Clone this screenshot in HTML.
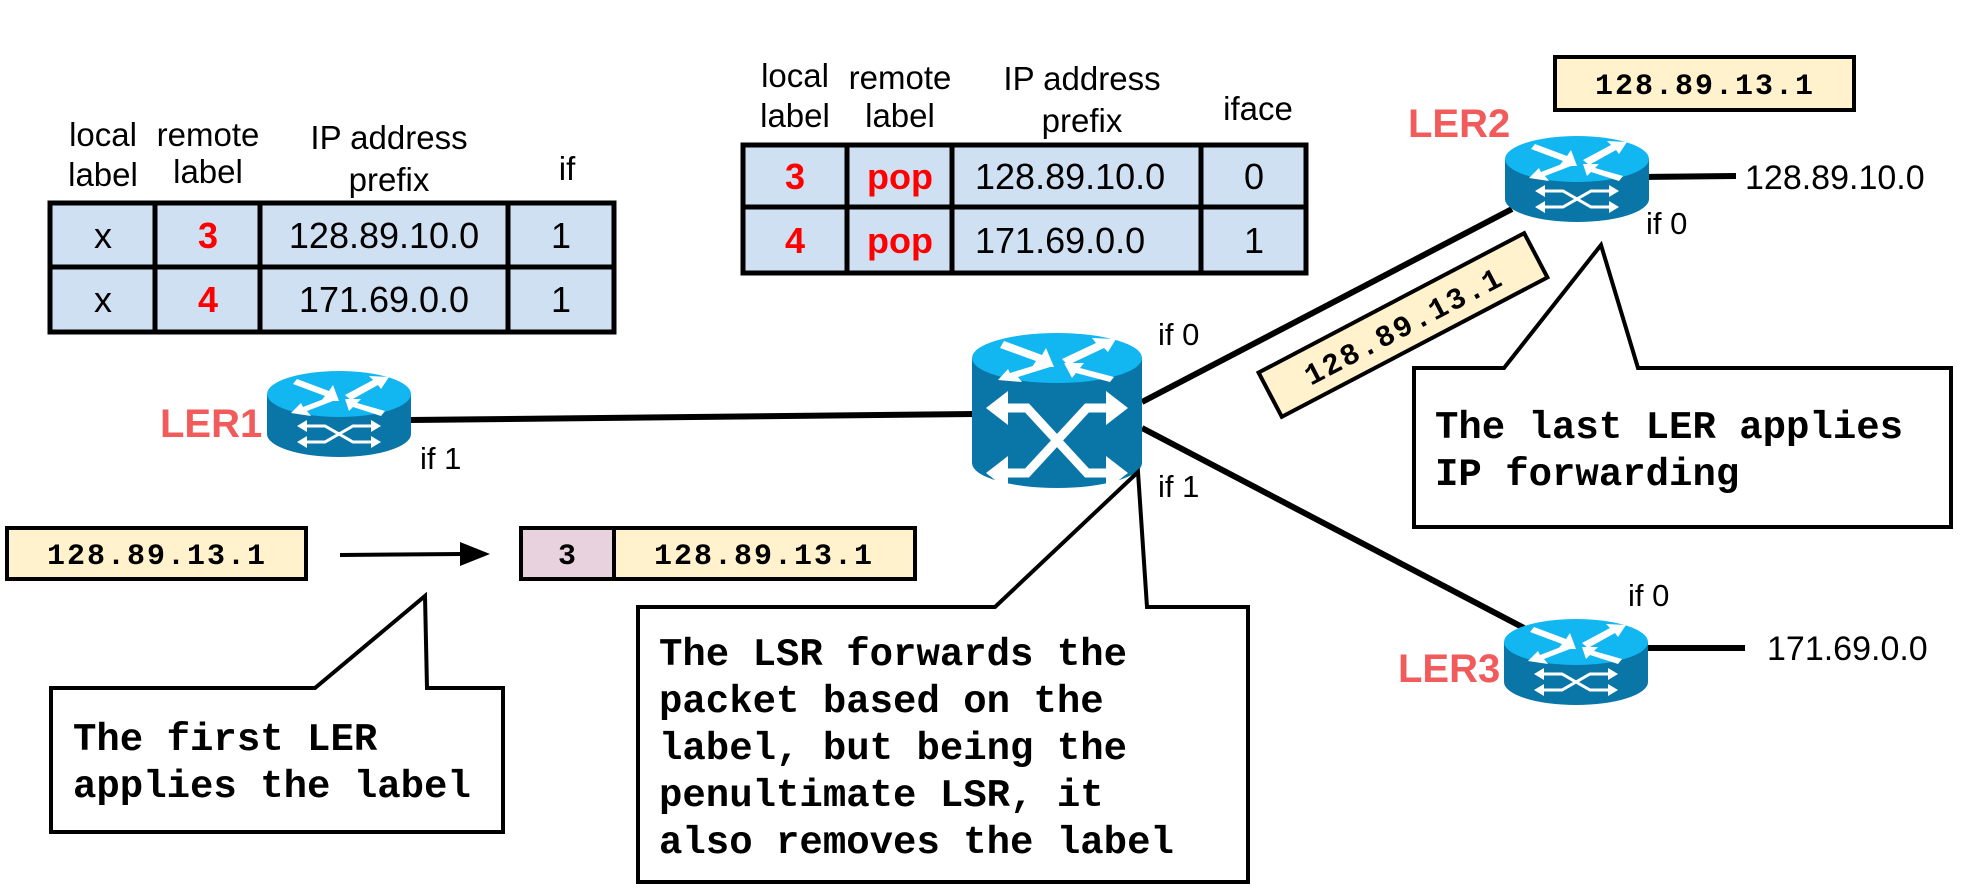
<!DOCTYPE html>
<html><head><meta charset="utf-8"><style>
html,body{margin:0;padding:0;background:#fff;}
svg{display:block;}
.h{font-family:"Liberation Sans",sans-serif;font-size:33px;fill:#000;}
.i{font-family:"Liberation Sans",sans-serif;font-size:31px;fill:#000;}
.c{font-family:"Liberation Sans",sans-serif;font-size:36px;fill:#000;}
.r{font-family:"Liberation Sans",sans-serif;font-size:36px;font-weight:bold;fill:#ff0000;}
.ler{font-family:"Liberation Sans",sans-serif;font-size:40px;font-weight:bold;fill:#f25b5b;}
.m{font-family:"Liberation Mono",monospace;font-size:30px;font-weight:bold;fill:#000;letter-spacing:2px;}
.t{font-family:"Liberation Mono",monospace;font-size:39px;font-weight:bold;fill:#000;}
</style></head><body>
<svg width="1966" height="896" viewBox="0 0 1966 896" xmlns="http://www.w3.org/2000/svg">
<defs>
<g id="rt">
  <path d="M0,23 L0,63 A72,23 0 0 0 144,63 L144,23 Z" fill="#0a76a8"/>
  <ellipse cx="72" cy="23" rx="72" ry="23" fill="#12b6f0"/>
  <g fill="#fff">
    <polygon points="30,8 62,20 66,14 72,30 54,30 58,25 26,13"/>
    <polygon points="78,24 106,9 102,5 122,6 114,18 111,14 84,29"/>
    <polygon points="66,30 40,40 44,45 24,42 34,32 36,36 62,26"/>
    <polygon points="78,28 94,28 90,32 118,40 114,45 86,36 82,40"/>
  </g>
  <g stroke="#fff" stroke-width="3" fill="none">
    <path d="M38,55 L58,55 L86,71 L106,71"/>
    <path d="M38,71 L58,71 L86,55 L106,55"/>
  </g>
  <g fill="#fff">
    <polygon points="30,55 40,49 40,61"/><polygon points="114,55 104,49 104,61"/>
    <polygon points="30,71 40,65 40,77"/><polygon points="114,71 104,65 104,77"/>
  </g>
</g>
</defs>

<g stroke="#000" stroke-width="6" fill="none">
  <line x1="410" y1="420" x2="975" y2="414"/>
  <line x1="1142" y1="402" x2="1512" y2="209"/>
  <line x1="1142" y1="428" x2="1524" y2="628"/>
  <line x1="1645" y1="177" x2="1736" y2="176"/>
  <line x1="1645" y1="648" x2="1745" y2="648"/>
</g>

<!-- Table 1 -->
<text class="h" text-anchor="middle" x="103" y="146">local</text>
<text class="h" text-anchor="middle" x="103" y="186">label</text>
<text class="h" text-anchor="middle" x="208" y="146">remote</text>
<text class="h" text-anchor="middle" x="208" y="183">label</text>
<text class="h" text-anchor="middle" x="389" y="149">IP address</text>
<text class="h" text-anchor="middle" x="389" y="191">prefix</text>
<text class="h" text-anchor="middle" x="567" y="180">if</text>
<rect x="50" y="203" width="564" height="129" fill="#cfe0f2" stroke="#000" stroke-width="5"/>
<g stroke="#000" stroke-width="5">
  <line x1="50" y1="267" x2="614" y2="267"/>
  <line x1="155" y1="203" x2="155" y2="332"/>
  <line x1="260" y1="203" x2="260" y2="332"/>
  <line x1="508" y1="203" x2="508" y2="332"/>
</g>
<text class="c" text-anchor="middle" x="103" y="248">x</text>
<text class="c" text-anchor="middle" x="103" y="312">x</text>
<text class="r" text-anchor="middle" x="208" y="248">3</text>
<text class="r" text-anchor="middle" x="208" y="312">4</text>
<text class="c" text-anchor="middle" x="384" y="248">128.89.10.0</text>
<text class="c" text-anchor="middle" x="384" y="312">171.69.0.0</text>
<text class="c" text-anchor="middle" x="561" y="248">1</text>
<text class="c" text-anchor="middle" x="561" y="312">1</text>

<!-- Table 2 -->
<text class="h" text-anchor="middle" x="795" y="87">local</text>
<text class="h" text-anchor="middle" x="795" y="127">label</text>
<text class="h" text-anchor="middle" x="900" y="89">remote</text>
<text class="h" text-anchor="middle" x="900" y="127">label</text>
<text class="h" text-anchor="middle" x="1082" y="90">IP address</text>
<text class="h" text-anchor="middle" x="1082" y="132">prefix</text>
<text class="h" text-anchor="middle" x="1258" y="120">iface</text>
<rect x="743" y="145" width="563" height="128" fill="#cfe0f2" stroke="#000" stroke-width="5"/>
<g stroke="#000" stroke-width="5">
  <line x1="743" y1="207" x2="1306" y2="207"/>
  <line x1="847" y1="145" x2="847" y2="273"/>
  <line x1="952" y1="145" x2="952" y2="273"/>
  <line x1="1201" y1="145" x2="1201" y2="273"/>
</g>
<text class="r" text-anchor="middle" x="795" y="189">3</text>
<text class="r" text-anchor="middle" x="795" y="253">4</text>
<text class="r" text-anchor="middle" x="900" y="189">pop</text>
<text class="r" text-anchor="middle" x="900" y="253">pop</text>
<text class="c" text-anchor="start" x="975" y="189">128.89.10.0</text>
<text class="c" text-anchor="start" x="975" y="253">171.69.0.0</text>
<text class="c" text-anchor="middle" x="1254" y="189">0</text>
<text class="c" text-anchor="middle" x="1254" y="253">1</text>

<use href="#rt" transform="translate(267,371)"/>
<use href="#rt" transform="translate(1505,136)"/>
<use href="#rt" transform="translate(1504,619)"/>

<g transform="translate(972,333)">
  <path d="M0,25 L0,130 A85,25 0 0 0 170,130 L170,25 Z" fill="#0a76a8"/>
  <ellipse cx="85" cy="25" rx="85" ry="25" fill="#12b6f0"/>
  <g fill="#fff">
    <polygon points="32,8 70,22 74,15 82,34 60,34 64,28 28,15"/>
    <polygon points="90,26 124,10 120,5 144,6 136,19 132,15 96,32"/>
    <polygon points="78,34 46,44 50,49 26,47 36,36 38,40 74,29"/>
    <polygon points="92,30 112,30 108,35 142,44 138,49 104,40 100,45"/>
  </g>
  <g stroke="#fff" stroke-width="9" fill="none">
    <path d="M30,75 L55,75 L115,140 L140,140"/>
    <path d="M30,140 L55,140 L115,75 L140,75"/>
  </g>
  <g fill="#fff">
    <polygon points="14,75 36,58 36,92"/><polygon points="156,75 134,58 134,92"/>
    <polygon points="14,140 36,123 36,157"/><polygon points="156,140 134,123 134,157"/>
  </g>
</g>

<text class="ler" x="160" y="437">LER1</text>
<text class="ler" x="1408" y="137">LER2</text>
<text class="ler" x="1398" y="682">LER3</text>
<text class="i" x="420" y="469">if 1</text>
<text class="i" x="1158" y="345">if 0</text>
<text class="i" x="1158" y="497">if 1</text>
<text class="i" x="1646" y="234">if 0</text>
<text class="i" x="1628" y="606">if 0</text>
<text class="c" x="1745" y="189" style="font-size:34px">128.89.10.0</text>
<text class="c" x="1767" y="660" style="font-size:34px">171.69.0.0</text>

<rect x="7" y="528" width="299" height="51" fill="#fff2cc" stroke="#000" stroke-width="4"/>
<text class="m" text-anchor="middle" x="157" y="564">128.89.13.1</text>
<line x1="340" y1="555" x2="462" y2="554" stroke="#000" stroke-width="4"/>
<polygon points="490,554 460,542 460,566" fill="#000"/>
<rect x="521" y="528" width="93" height="51" fill="#e8d2de" stroke="#000" stroke-width="4"/>
<rect x="614" y="528" width="301" height="51" fill="#fff2cc" stroke="#000" stroke-width="4"/>
<text class="m" text-anchor="middle" x="568" y="564">3</text>
<text class="m" text-anchor="middle" x="764" y="564">128.89.13.1</text>
<rect x="1555" y="57" width="299" height="53" fill="#fff2cc" stroke="#000" stroke-width="4"/>
<text class="m" text-anchor="middle" x="1705" y="94">128.89.13.1</text>
<g transform="translate(1403,325) rotate(-27.7)">
  <rect x="-150" y="-25" width="300" height="50" fill="#fff2cc" stroke="#000" stroke-width="4"/>
  <text class="m" text-anchor="middle" x="0" y="11">128.89.13.1</text>
</g>

<path d="M51,688 L315,688 L425,596 L427,688 L503,688 L503,832 L51,832 Z" fill="#fff" stroke="#000" stroke-width="4"/>
<text class="t" x="73" y="750">The first LER</text>
<text class="t" x="73" y="797">applies the label</text>

<path d="M638,607 L995,607 L1138,472 L1147,607 L1248,607 L1248,882 L638,882 Z" fill="#fff" stroke="#000" stroke-width="4"/>
<text class="t" x="659" y="665">The LSR forwards the</text>
<text class="t" x="659" y="712">packet based on the</text>
<text class="t" x="659" y="759">label, but being the</text>
<text class="t" x="659" y="806">penultimate LSR, it</text>
<text class="t" x="659" y="853">also removes the label</text>

<path d="M1414,368 L1504,368 L1601,245 L1638,368 L1951,368 L1951,527 L1414,527 Z" fill="#fff" stroke="#000" stroke-width="4"/>
<text class="t" x="1435" y="438">The last LER applies</text>
<text class="t" x="1435" y="485">IP forwarding</text>
</svg>
</body></html>
